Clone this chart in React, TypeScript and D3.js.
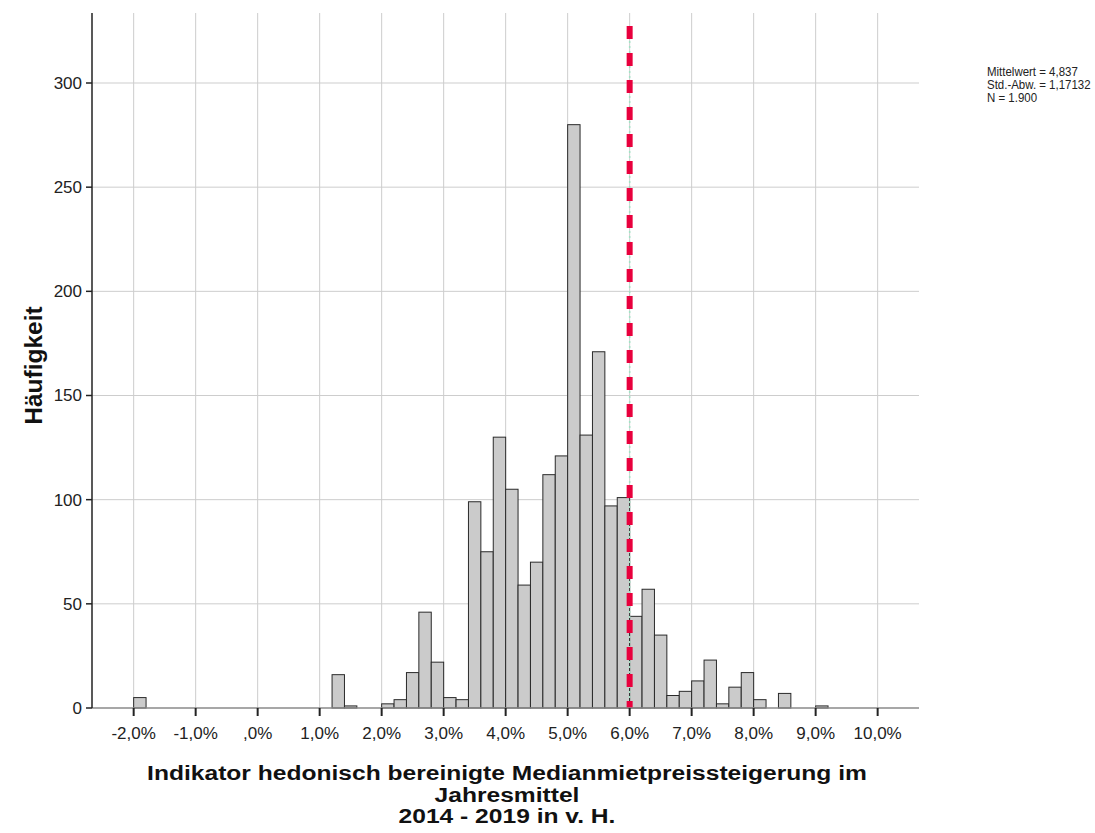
import React from "react";
import * as d3 from "d3";

// Histogram bins (lower edge, in percent; bin width 0.2) and their frequencies
const binWidth = 0.2;
const binLower = [-2.0, 1.2, 1.4, 2.0, 2.2, 2.4, 2.6, 2.8, 3.0, 3.2, 3.4, 3.6, 3.8, 4.0, 4.2, 4.4, 4.6, 4.8, 5.0, 5.2, 5.4, 5.6, 5.8, 6.0, 6.2, 6.4, 6.6, 6.8, 7.0, 7.2, 7.4, 7.6, 7.8, 8.0, 8.4, 9.0];
const counts = [5, 16, 1, 2, 4, 17, 46, 22, 5, 4, 99, 75, 130, 105, 59, 70, 112, 121, 280, 131, 171, 97, 101, 44, 57, 35, 6, 8, 13, 23, 2, 10, 17, 4, 7, 1];

const xTicks = [-2, -1, 0, 1, 2, 3, 4, 5, 6, 7, 8, 9, 10];
const yTicks = [0, 50, 100, 150, 200, 250, 300];
const referenceLine = 6.0;

const statsLines = ["Mittelwert = 4,837", "Std.-Abw. = 1,17132", "N = 1.900"];
const xTitle = [
  "Indikator hedonisch bereinigte Medianmietpreissteigerung im",
  "Jahresmittel",
  "2014 - 2019 in v. H.",
];
const yTitle = "Häufigkeit";

const W = 1095;
const H = 833;
const left = 92;
const right = 919;
const top = 13;
const bottom = 708;

const fmtPct = (v: number) => {
  const s = Math.abs(v).toFixed(1).replace(".", ",");
  const body = s.startsWith("0,") ? s.slice(1) : s;
  return (v < 0 ? "-" : "") + body + "%";
};

export default function App() {
  const x = d3.scaleLinear().domain([-2.672, 10.667]).range([left, right]);
  const y = d3.scaleLinear().domain([0, 333.6]).range([bottom, top]);
  const font = "Arial, 'Liberation Sans', Helvetica, sans-serif";

  return (
    <svg
      width={W}
      height={H}
      style={{ position: "absolute", left: 0, top: 0, background: "#fff" }}
      fontFamily={font}
    >
      {/* grid */}
      <g stroke="#cdcdcd" strokeWidth={1}>
        {xTicks.map((t) => (
          <line key={"gx" + t} x1={x(t)} x2={x(t)} y1={top} y2={bottom} />
        ))}
        {yTicks.slice(1).map((t) => (
          <line key={"gy" + t} x1={left} x2={right} y1={y(t)} y2={y(t)} />
        ))}
      </g>

      {/* bars */}
      <g fill="#cbcbcb" stroke="#2a2a2a" strokeWidth={1}>
        {binLower.map((b, i) => (
          <rect
            key={"b" + i}
            x={x(b)}
            y={y(counts[i])}
            width={x(b + binWidth) - x(b)}
            height={y(0) - y(counts[i])}
          />
        ))}
      </g>

      {/* reference line */}
      <line
        x1={x(referenceLine)}
        x2={x(referenceLine)}
        y1={26}
        y2={bottom}
        stroke="#9fe3c4"
        strokeWidth={1.5}
        strokeDasharray="2 3"
      />
      <line
        x1={x(referenceLine)}
        x2={x(referenceLine)}
        y1={26}
        y2={bottom}
        stroke="#e8003d"
        strokeWidth={6}
        strokeDasharray="13 14"
      />

      {/* axes */}
      <line x1={left} x2={right} y1={bottom} y2={bottom} stroke="#8a8a8a" strokeWidth={1.5} />
      <line x1={left} x2={left} y1={top} y2={bottom} stroke="#222" strokeWidth={1.5} />

      {yTicks.map((t) => (
        <g key={"yt" + t}>
          <line x1={left - 6} x2={left} y1={y(t)} y2={y(t)} stroke="#222" strokeWidth={1.5} />
          <text x={left - 10} y={y(t)} dy="0.35em" textAnchor="end" fontSize={17} fill="#222">
            {t}
          </text>
        </g>
      ))}

      {xTicks.map((t) => (
        <g key={"xt" + t}>
          <line x1={x(t)} x2={x(t)} y1={bottom} y2={bottom + 8} stroke="#222" strokeWidth={2} />
          <text x={x(t)} y={bottom + 25} dy="0.35em" textAnchor="middle" fontSize={17} fill="#222">
            {fmtPct(t)}
          </text>
        </g>
      ))}

      {/* axis titles */}
      <text
        transform={`translate(33, ${(top + bottom) / 2 + 5}) rotate(-90)`}
        textAnchor="middle"
        dy="0.35em"
        fontSize={24.5}
        fontWeight="bold"
        fill="#111"
      >
        {yTitle}
      </text>
      {xTitle.map((line, i) => (
        <g key={"xl" + i} transform={`translate(507, ${773 + i * 21.5}) scale(1.2, 1)`}>
          <text
            x={0}
            y={0}
            dy="0.35em"
            textAnchor="middle"
            fontSize={20.5}
            fontWeight="bold"
            fill="#111"
          >
            {line}
          </text>
        </g>
      ))}

      {/* summary statistics */}
      {statsLines.map((s, i) => (
        <g key={"s" + i} transform={`translate(987, ${71 + i * 13}) scale(0.85, 1)`}>
          <text x={0} y={0} dy="0.35em" fontSize={13.5} fill="#222">
            {s}
          </text>
        </g>
      ))}
    </svg>
  );
}
